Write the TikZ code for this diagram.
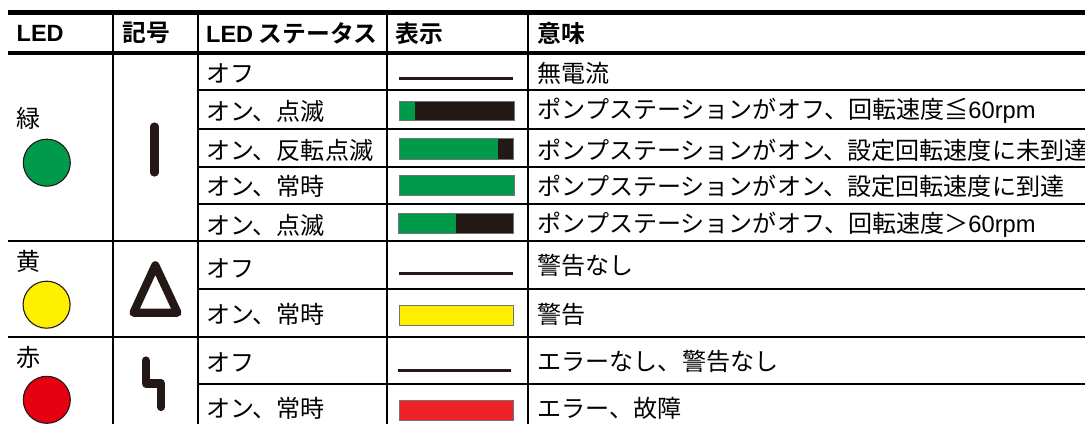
\documentclass[tikz,border=0pt]{standalone}
\usepackage{fontspec}
\setmainfont{Liberation Sans}
\newfontfamily\jp{Noto Sans CJK JP}
\newfontfamily\jpb{Noto Sans CJK JP}[BoldFont={Noto Sans CJK JP Bold}]
\definecolor{ledgreen}{HTML}{009B4A}
\definecolor{ledyellow}{HTML}{FFF000}
\definecolor{ledred}{HTML}{E50012}
\definecolor{barred}{HTML}{EE2127}
\definecolor{ink}{HTML}{231815}
\newcommand{\latinpm}{{\fontsize{23.7}{24}\selectfont\rmfamily 60rpm}}
\tikzset{
  rule/.style={line width=1.9pt,black},
  thick rule/.style={line width=4.4pt,black},
  cell/.style={anchor=west,inner sep=0pt,font=\fontsize{24.05}{24}\selectfont\jp},
  head/.style={anchor=west,inner sep=0pt,font=\fontsize{23.8}{24}\selectfont\bfseries\jpb},
  bar/.style={draw=black!55,line width=0.8pt},
  offline/.style={draw=ink,line width=2.6pt},
  lamp/.style={circle,draw=ink,line width=1.1pt,minimum size=47pt,inner sep=0pt},
  symb/.style={draw=ink,line width=8.2pt,line cap=round,line join=round},
}
\begin{document}
\begin{tikzpicture}[x=1pt,y=-1pt]
\useasboundingbox (0,0) rectangle (1085,424);
\fill[white] (0,0) rectangle (1085,424);
% rules
\draw[thick rule] (8,12.3) -- (1085,12.3);
\draw[thick rule] (8,52.7) -- (1085,52.7);
\foreach \y in {90.3,129,166.7,203.7,288.7,384} \draw[rule] (198.3,\y) -- (1085,\y);
\foreach \y in {240.7,337} \draw[rule] (8,\y) -- (1085,\y);
\foreach \x in {112.7,198.3,386.7,527.7} \draw[rule] (\x,12.3) -- (\x,424);
% header
\node[head] (h1) at (16.5,33) {\fontsize{23.5}{24}\selectfont\bfseries\rmfamily LED};
\node[head] (h2) at (122,33) {記号};
\node[head] (h3) at (206,33) {{\fontsize{23.5}{24}\selectfont\rmfamily LED} ステータス};
\node[head] (h4) at (395,33) {表示};
\node[head] (h5) at (537.5,33) {意味};
% LED column
\node[cell] (g) at (16.5,118) {緑};
\node[lamp,fill=ledgreen] (lg) at (46.8,162.7) {};
\node[cell] (y) at (16.5,261.7) {黄};
\node[lamp,fill=ledyellow] (ly) at (46.6,304.7) {};
\node[cell] (r) at (16.5,357.5) {赤};
\node[lamp,fill=ledred] (lr) at (46.8,399.8) {};
% symbols
\draw[symb] (154.5,126.5) -- (154.5,172.5);
\draw[symb] (155.3,265.3) -- (133.5,312.7) -- (177.5,312.7) -- cycle;
\draw[symb] (145.8,360.5) -- (145.8,383.5) -- (161.2,383.5) -- (161.2,407);
% status
\node[cell] (s1) at (206,73) {オフ};
\node[cell] (s2) at (206,111) {オン、点滅};
\node[cell] (s3) at (206,150) {オン、反転点滅};
\node[cell] (s4) at (206,186) {オン、常時};
\node[cell] (s5) at (206,225) {オン、点滅};
\node[cell] (s6) at (206,268) {オフ};
\node[cell] (s7) at (206,314) {オン、常時};
\node[cell] (s8) at (206,362) {オフ};
\node[cell] (s9) at (206,408) {オン、常時};
% display
\draw[offline] (399,78.7) -- (513.3,78.7);
\fill[ink] (399.5,101) rectangle (514,120.7); \fill[ledgreen] (399.5,101) rectangle (415,120.7); \draw[bar] (399.5,101) rectangle (514,120.7);
\fill[ink] (399.5,138.7) rectangle (513.7,159); \fill[ledgreen] (399.5,138.7) rectangle (498,159); \draw[bar] (399.5,138.7) rectangle (513.7,159);
\fill[ledgreen] (399.5,175) rectangle (514,195); \draw[bar] (399.5,175) rectangle (514,195);
\fill[ink] (398.7,213.3) rectangle (513.3,233.7); \fill[ledgreen] (398.7,213.3) rectangle (455.7,233.7); \draw[bar] (398.7,213.3) rectangle (513.3,233.7);
\draw[offline] (399,273.7) -- (513,273.7);
\fill[ledyellow] (399.5,305.7) rectangle (513.7,325.7); \draw[bar] (399.5,305.7) rectangle (513.7,325.7);
\draw[offline] (398.3,370.3) -- (511,370.3);
\fill[barred] (399.5,400.7) rectangle (513.7,420.3); \draw[bar] (399.5,400.7) rectangle (513.7,420.3);
% meaning
\node[cell] (m1) at (537.5,73) {無電流};
\node[cell] (m2) at (537.5,111) {ポンプステーションがオフ、回転速度≦\latinpm};
\node[cell] (m3) at (537.5,150) {ポンプステーションがオン、設定回転速度に未到達};
\node[cell] (m4) at (537.5,186) {ポンプステーションがオン、設定回転速度に到達};
\node[cell] (m5) at (537.5,225) {ポンプステーションがオフ、回転速度＞\latinpm};
\node[cell] (m6) at (537.5,265.3) {警告なし};
\node[cell] (m7) at (537.5,314) {警告};
\node[cell] (m8) at (537.5,361) {エラーなし、警告なし};
\node[cell] (m9) at (537.5,408) {エラー、故障};
\end{tikzpicture}
\end{document}
